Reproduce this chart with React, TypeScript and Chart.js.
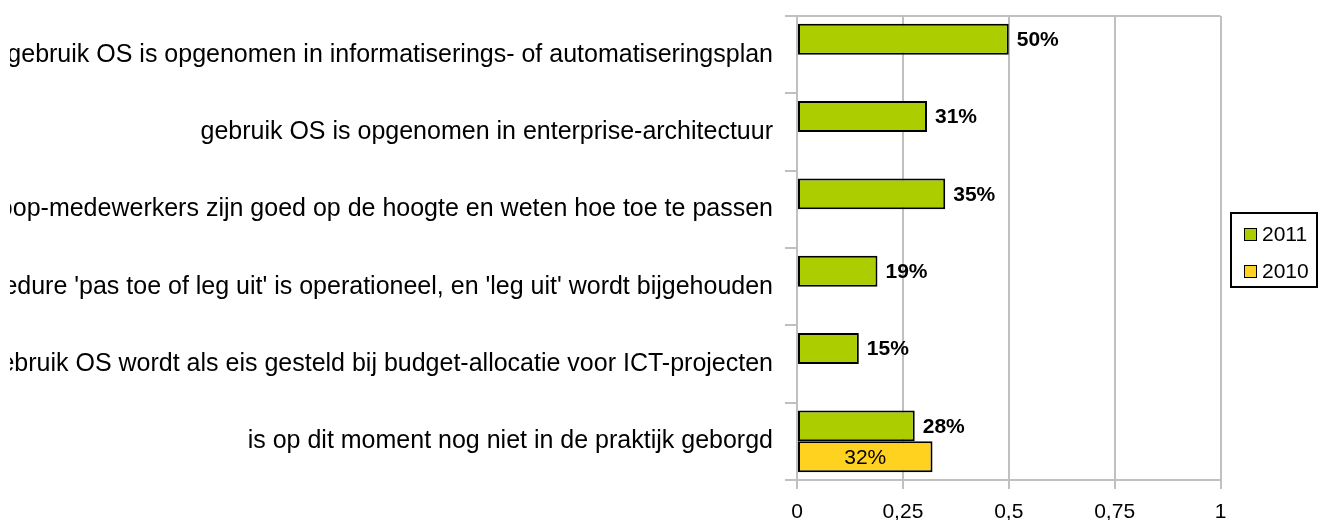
import React, { useEffect, useRef } from 'react';
import { Chart, registerables } from 'chart.js';

Chart.register(...registerables);

const categories = [
  'gebruik OS is opgenomen in informatiserings- of automatiseringsplan',
  'gebruik OS is opgenomen in enterprise-architectuur',
  'inkoop-medewerkers zijn goed op de hoogte en weten hoe toe te passen',
  "procedure 'pas toe of leg uit' is operationeel, en 'leg uit' wordt bijgehouden",
  'gebruik OS wordt als eis gesteld bij budget-allocatie voor ICT-projecten',
  'is op dit moment nog niet in de praktijk geborgd',
];

const series2011 = [0.5, 0.307, 0.35, 0.19, 0.146, 0.278];
const series2010 = [null, null, null, null, null, 0.32];
const seriesLabels = ['2011', '2010'];
const seriesColors = ['#ACCD00', '#FFD21F'];
const xTicks = [0, 0.25, 0.5, 0.75, 1];

const FONT = '"Liberation Sans", Arial, sans-serif';
const GRID = '#C0C0C0';

const valueLabelPlugin = {
  id: 'valueLabels',
  afterDatasetsDraw(chart: any) {
    const { ctx } = chart;
    ctx.save();
    chart.data.datasets.forEach((ds: any, di: number) => {
      const meta = chart.getDatasetMeta(di);
      meta.data.forEach((el: any, i: number) => {
        const v = ds.data[i];
        if (v === null || v === undefined) return;
        const txt = Math.round(v * 100) + '%';
        ctx.fillStyle = '#000';
        ctx.textBaseline = 'middle';
        if (di === 0) {
          ctx.font = `bold 21px ${FONT}`;
          ctx.textAlign = 'left';
          ctx.fillText(txt, el.x + 8, el.y + 1);
        } else {
          ctx.font = `21px ${FONT}`;
          ctx.textAlign = 'center';
          ctx.fillText(txt, (el.x + el.base) / 2, el.y + 1);
        }
      });
    });
    ctx.restore();
  },
};

const legendBoxPlugin = {
  id: 'legendBox',
  afterDraw(chart: any) {
    const { ctx, chartArea } = chart;
    const left = chartArea.right + 10.5;
    const w = 86;
    const h = 74;
    const midY = (chartArea.top + chartArea.bottom) / 2 + 2;
    const top = midY - h / 2;
    ctx.save();
    ctx.lineWidth = 2;
    ctx.strokeStyle = '#000';
    ctx.strokeRect(left, top, w, h);
    chart.data.datasets.forEach((ds: any, i: number) => {
      const cy = top + 21.5 + i * 37;
      ctx.fillStyle = ds.backgroundColor;
      ctx.fillRect(left + 13, cy - 6.5, 13, 13);
      ctx.lineWidth = 1;
      ctx.strokeStyle = '#000';
      ctx.strokeRect(left + 13.5, cy - 6, 12, 12);
      ctx.fillStyle = '#000';
      ctx.font = `21px ${FONT}`;
      ctx.textAlign = 'left';
      ctx.textBaseline = 'middle';
      ctx.fillText(ds.label, left + 31, cy + 1);
    });
    ctx.restore();
  },
};

export default function App() {
  const ref = useRef<HTMLCanvasElement>(null);

  useEffect(() => {
    if (!ref.current) return;
    const chart = new Chart(ref.current, {
      type: 'bar',
      data: {
        labels: categories,
        datasets: [
          {
            label: seriesLabels[0],
            data: series2011,
            backgroundColor: seriesColors[0],
            borderColor: '#000',
            borderWidth: 2,
            borderSkipped: false,
            categoryPercentage: 0.8,
            barPercentage: 1,
          },
          {
            label: seriesLabels[1],
            data: series2010 as any,
            backgroundColor: seriesColors[1],
            borderColor: '#000',
            borderWidth: 2,
            borderSkipped: false,
            categoryPercentage: 0.8,
            barPercentage: 1,
          },
        ],
      },
      options: {
        indexAxis: 'y',
        animation: false,
        responsive: true,
        maintainAspectRatio: false,
        layout: { padding: { top: 16, right: 99.5, left: 0, bottom: 0 } },
        plugins: {
          legend: { display: false },
          tooltip: { enabled: false },
        },
        scales: {
          x: {
            min: 0,
            max: 1,
            afterBuildTicks: (scale: any) => {
              scale.ticks = xTicks.map((v) => ({ value: v }));
            },
            afterFit: (scale: any) => {
              scale.height = 40;
              scale.paddingLeft = 0;
              scale.paddingRight = 0;
            },
            grid: { color: GRID, lineWidth: 2, tickLength: 9, tickColor: GRID },
            border: { color: GRID, width: 2 },
            ticks: {
              color: '#000',
              font: { size: 21, family: FONT },
              padding: 11,
              maxRotation: 0,
              callback: (v: any) => String(v).replace('.', ','),
            },
          },
          y: {
            afterFit: (scale: any) => {
              scale.width = 787;
              scale.paddingTop = 0;
              scale.paddingBottom = 0;
            },
            grid: {
              lineWidth: 2,
              tickLength: 12,
              tickColor: GRID,
              color: (c: any) =>
                c.index === 0 || c.index === categories.length ? GRID : 'rgba(0,0,0,0)',
            },
            border: { color: GRID, width: 2 },
            ticks: {
              color: '#000',
              autoSkip: false,
              font: { size: 25, family: FONT },
              padding: 12,
            },
          },
        },
      },
      plugins: [valueLabelPlugin, legendBoxPlugin],
    });
    return () => chart.destroy();
  }, []);

  return (
    <div style={{ position: 'absolute', left: 10, top: 0, width: 1310, height: 520 }}>
      <canvas ref={ref} />
    </div>
  );
}
